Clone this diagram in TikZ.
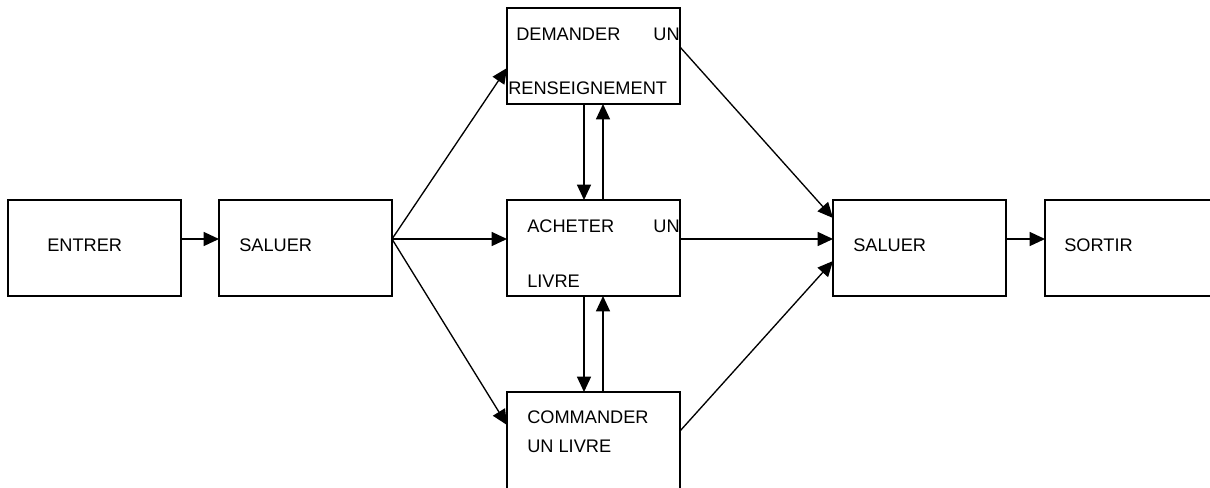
\documentclass[tikz,border=0pt]{standalone}
\usepackage{fontspec}
\setmainfont{Liberation Sans}
\usetikzlibrary{arrows.meta}
\begin{document}
\begin{tikzpicture}[x=0.75pt,y=-0.75pt,
  box/.style={draw, line width=1.2pt, rectangle, inner sep=0pt, outer sep=0pt,
    anchor=north west, minimum width=129.75pt, minimum height=72pt},
  lbl/.style={anchor=base west, inner sep=0pt, font=\fontsize{13.65}{16}\selectfont},
  lblr/.style={lbl, anchor=base east},
  arr/.style={line width=1pt, -{Triangle[length=11.5pt,width=10.5pt]}},
  plain/.style={line width=1pt}]
\useasboundingbox (0,0) rectangle (1210,487);
% boxes
\node[box] (entrer) at (8,200) {};
\node[box] (sal1) at (219,200) {};
\node[box] (dem) at (507,8) {};
\node[box] (ach) at (507,200) {};
\node[box, minimum height=75pt] (com) at (507,392) {};
\node[box] (sal2) at (833,200) {};
\node[box, minimum width=131.25pt] (sortir) at (1045,200) {};
% labels
\node[lbl] (tEntrer) at (47,251) {ENTRER};
\node[lbl] (tSal1) at (239,251) {SALUER};
\node[lbl] (tDem) at (516,40) {DEMANDER};
\node[lblr] (tDemUn) at (680,40) {UN};
\node[lbl] (tRens) at (508,94) {RENSEIGNEMENT};
\node[lbl] (tAch) at (527,232) {ACHETER};
\node[lblr] (tAchUn) at (680,232) {UN};
\node[lbl] (tAchLiv) at (527,287) {LIVRE};
\node[lbl] (tCom) at (527,423.5) {COMMANDER};
\node[lbl] (tComLiv) at (527,452) {UN LIVRE};
\node[lbl] (tSal2) at (853,251) {SALUER};
\node[lbl] (tSortir) at (1064,251) {SORTIR};
% helper levels
\coordinate (h239) at (0,239);
\coordinate (h68) at (0,68);
\coordinate (h425) at (0,425);
\coordinate (h47) at (0,47);
\coordinate (h431) at (0,431);
\coordinate (h218) at (0,218);
\coordinate (h261) at (0,261);
\coordinate (v584) at (584,0);
\coordinate (v603) at (603,0);
% main flow
\draw[arr] (entrer.east |- h239) -- (sal1.west |- h239);
\draw[arr] (sal1.east |- h239) -- (dem.west |- h68);
\draw[arr] (sal1.east |- h239) -- (ach.west |- h239);
\draw[arr] (sal1.east |- h239) -- (com.west |- h425);
\draw[arr] (dem.east |- h47) -- (sal2.west |- h218);
\draw[arr] (ach.east |- h239) -- (sal2.west |- h239);
\draw[arr] (com.east |- h431) -- (sal2.west |- h261);
\draw[arr] (sal2.east |- h239) -- (sortir.west |- h239);
% vertical exchanges
\draw[arr] (v584 |- dem.south) -- (v584 |- ach.north);
\draw[arr] (v603 |- ach.north) -- (v603 |- dem.south);
\draw[arr] (v584 |- ach.south) -- (v584 |- com.north);
\draw[arr] (v603 |- com.north) -- (v603 |- ach.south);
\end{tikzpicture}
\end{document}
